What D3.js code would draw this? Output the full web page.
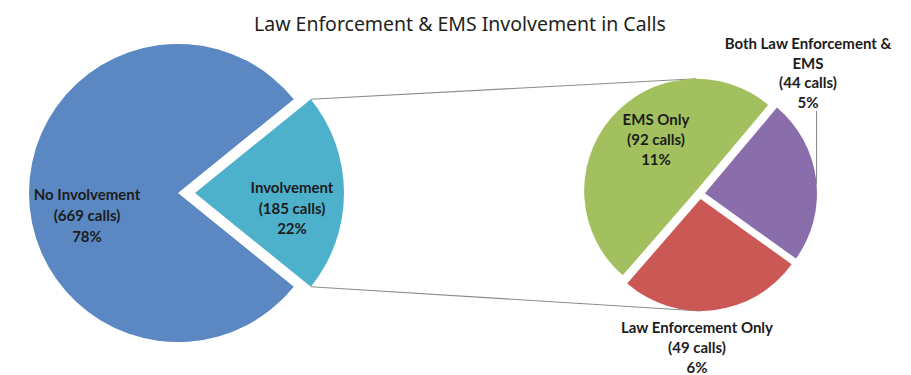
<!DOCTYPE html>
<html>
<head>
<meta charset="utf-8">
<script src="https://cdn.jsdelivr.net/npm/d3@7"></script>
<style>
  html, body { margin: 0; padding: 0; background: #fff; }
  svg { display: block; }
</style>
</head>
<body>
<svg id="chart" width="911" height="375"></svg>
<script>
// ---------- data ----------
const title = "Law Enforcement & EMS Involvement in Calls";
const mainCategories = ["No Involvement", "Involvement"];
const mainCalls = [669, 185];
const mainColors = ["#5b88c2", "#4eb1cb"];

const subCategories = ["EMS Only", "Both Law Enforcement & EMS", "Law Enforcement Only"];
const subCalls = [92, 44, 49];
const subColors = ["#a2c15e", "#8a6dab", "#cb5854"];
const subLabelLines = [["EMS Only"], ["Both Law Enforcement &", "EMS"], ["Law Enforcement Only"]];

// ---------- layout ----------
const svg = d3.select("#chart");
const total = d3.sum(mainCalls);
const fmtPct = d3.format(".0%");
const labelFont = "'Liberation Sans Narrow', Lato, sans-serif";
const titleFont = "'Noto Sans', 'Open Sans', sans-serif";

const c1 = { x: 178, y: 193 }, r1 = 149, explode1 = 17;
const c2 = { x: 700, y: 194 }, r2 = 112, explode2 = 5;

// main pie: "Involvement" centred pointing right
const invAngle = mainCalls[1] / total * 2 * Math.PI;
const pie1 = d3.pie().sort(null).value(d => d)
  .startAngle(Math.PI / 2 + invAngle / 2)
  .endAngle(Math.PI / 2 + invAngle / 2 + 2 * Math.PI);
const arcs1 = pie1(mainCalls);
const arc1 = d3.arc().innerRadius(0).outerRadius(r1);

// sub pie
const subTotal = d3.sum(subCalls);
const emsAngle = subCalls[0] / subTotal * 2 * Math.PI;
const sub0 = 40 / 180 * Math.PI - emsAngle;
const pie2 = d3.pie().sort(null).value(d => d).startAngle(sub0).endAngle(sub0 + 2 * Math.PI);
const arcs2 = pie2(subCalls);
const arc2 = d3.arc().innerRadius(0).outerRadius(r2);

function offset(a, dist) {
  const mid = (a.startAngle + a.endAngle) / 2;
  return [dist * Math.sin(mid), -dist * Math.cos(mid)];
}
const off1 = arcs1.map((a, i) => i === 1 ? offset(a, explode1) : [0, 0]);
const off2 = arcs2.map(a => offset(a, explode2));

// ---------- connector lines ----------
const inv = arcs1[1];
const invTop = [c1.x + off1[1][0] + r1 * Math.sin(inv.startAngle), c1.y + off1[1][1] - r1 * Math.cos(inv.startAngle)];
const invBot = [c1.x + off1[1][0] + r1 * Math.sin(inv.endAngle), c1.y + off1[1][1] - r1 * Math.cos(inv.endAngle)];
const subTop = [c2.x + off2[0][0], c2.y + off2[0][1] - r2];
const subBot = [c2.x + off2[2][0], c2.y + off2[2][1] + r2];
const lines = svg.append("g").attr("stroke", "#8c8c8c").attr("stroke-width", 1.1).attr("fill", "none");
lines.append("line").attr("x1", invTop[0]).attr("y1", invTop[1]).attr("x2", subTop[0]).attr("y2", subTop[1]);
lines.append("line").attr("x1", invBot[0]).attr("y1", invBot[1]).attr("x2", subBot[0]).attr("y2", subBot[1]);

// ---------- pies ----------
svg.append("g").attr("transform", `translate(${c1.x},${c1.y})`)
  .selectAll("path").data(arcs1).join("path")
  .attr("transform", (d, i) => `translate(${off1[i][0]},${off1[i][1]})`)
  .attr("d", arc1).attr("fill", (d, i) => mainColors[i]);

svg.append("g").attr("transform", `translate(${c2.x},${c2.y})`)
  .selectAll("path").data(arcs2).join("path")
  .attr("transform", (d, i) => `translate(${off2[i][0]},${off2[i][1]})`)
  .attr("d", arc2).attr("fill", (d, i) => subColors[i]);

// leader line for "Both" label
const leadAng = 85 / 180 * Math.PI;
const leadPt = [c2.x + off2[1][0] + r2 * Math.sin(leadAng), c2.y + off2[1][1] - r2 * Math.cos(leadAng)];
svg.append("line").attr("x1", leadPt[0]).attr("y1", 111).attr("x2", leadPt[0]).attr("y2", leadPt[1])
  .attr("stroke", "#8c8c8c").attr("stroke-width", 1.1);

// ---------- title ----------
const t = svg.append("text").text(title)
  .attr("x", 460).attr("y", 23).attr("text-anchor", "middle").attr("dominant-baseline", "central")
  .attr("font-family", titleFont).attr("font-size", 17).attr("fill", "#231f20");
const tw = t.node().getComputedTextLength();
t.attr("font-size", 17 * 412 / tw);

// ---------- labels ----------
const probe = svg.append("text").text("Both Law Enforcement &")
  .attr("font-family", labelFont).attr("font-weight", "bold").attr("font-size", 13);
const labelSize = Math.min(15, 13 * 171 / probe.node().getComputedTextLength());
probe.remove();

function block(lines, x, y, gap) {
  const g = svg.append("text").attr("text-anchor", "middle")
    .attr("font-family", labelFont).attr("font-weight", "bold")
    .attr("font-size", labelSize).attr("fill", "#1c1c1c");
  lines.forEach((s, i) => {
    g.append("tspan").attr("x", x).attr("y", y + i * gap).attr("dominant-baseline", "central").text(s);
  });
}

const callsTxt = n => `(${n} calls)`;
block([mainCategories[0], callsTxt(mainCalls[0]), fmtPct(mainCalls[0] / total)], 87, 194, 21);
block([mainCategories[1], callsTxt(mainCalls[1]), fmtPct(mainCalls[1] / total)], 292, 187, 20.5);

block([...subLabelLines[0], callsTxt(subCalls[0]), fmtPct(subCalls[0] / total)], 656, 119, 20);
block([...subLabelLines[1], callsTxt(subCalls[1]), fmtPct(subCalls[1] / total)], 808, 43, 19.7);
block([...subLabelLines[2], callsTxt(subCalls[2]), fmtPct(subCalls[2] / total)], 697, 327, 20);
</script>
</body>
</html>
